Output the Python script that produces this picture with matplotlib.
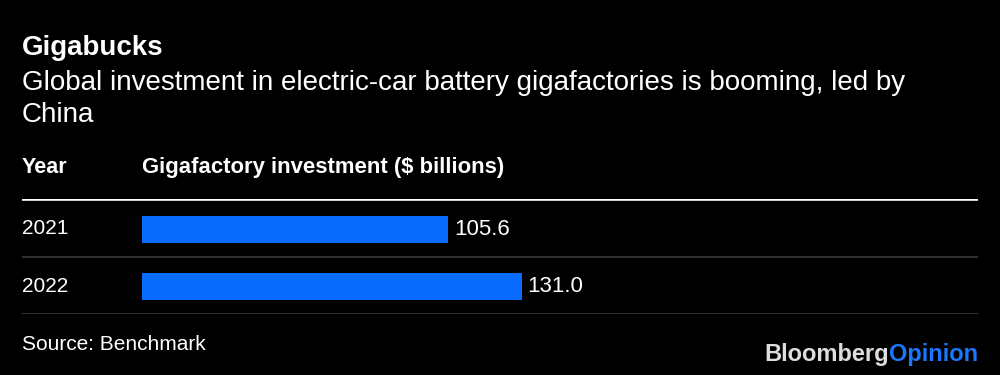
import matplotlib.pyplot as plt
from matplotlib.transforms import blended_transform_factory

plt.rcParams['font.family'] = ['Liberation Sans', 'DejaVu Sans']

years = ['2021', '2022']
investment = [105.6, 131.0]
value_labels = ['105.6', '131.0']

title = 'Gigabucks'
subtitle_lines = ['Global investment in electric-car battery gigafactories is booming, led by',
                  'China']
col_year = 'Year'
col_value = 'Gigafactory investment ($ billions)'
source = 'Source: Benchmark'

bg = '#000000'
bar_color = '#0a6cff'
px_per_unit = 2.9

fig = plt.figure(figsize=(10, 3.75), dpi=100, facecolor=bg)

# axes covers the table area, from x=22px to x=978px, rows y=199..314px
left, right = 0.022, 0.978
ax = fig.add_axes([left, 1 - 314 / 375, right - left, (314 - 199) / 375])
ax.set_facecolor(bg)
ax.set_xlim(-(142 - 22) / px_per_unit, (978 - 142) / px_per_unit)
ax.set_ylim(len(years) - 0.5, -0.5)
ax.axis('off')

pos = list(range(len(years)))
# bars sit a touch below the row centre in the original
ax.barh([p + 0.03 for p in pos], investment, height=0.47, color=bar_color, zorder=2)

trans = blended_transform_factory(ax.transAxes, ax.transData)
for i, (yr, v, lab) in enumerate(zip(years, investment, value_labels)):
    ax.text(0, i + 0.02, yr, transform=trans, color='white', fontsize=15,
            va='center', ha='left')
    ax.text(v + 2, i + 0.03, lab, color='white', fontsize=16, va='center', ha='left')

ax.axhline(-0.5, color='white', lw=2.6, zorder=3)
for i in pos:
    ax.axhline(i + 0.5, color='#3a3a3a', lw=1.2, zorder=3)

fig.text(0.022, 1 - 48 / 375, title, color='white', fontsize=20,
         fontweight='bold', va='center', ha='left')
for k, line in enumerate(subtitle_lines):
    fig.text(0.022, 1 - (83 + 32 * k) / 375, line, color='white', fontsize=20,
             va='center', ha='left')
fig.text(0.022, 1 - 168 / 375, col_year, color='white', fontsize=15.5,
         fontweight='bold', va='center', ha='left')
fig.text(0.142, 1 - 168 / 375, col_value, color='white', fontsize=15.9,
         fontweight='bold', va='center', ha='left')
fig.text(0.022, 1 - 345 / 375, source, color='white', fontsize=15,
         va='center', ha='left')

# logo
t1 = fig.text(0.978, 1 - 354 / 375, 'Opinion', color='#1a78ff', fontsize=17,
              fontweight='bold', va='center', ha='right')
fig.canvas.draw()
bb = t1.get_window_extent()
fig.text(bb.x0 / 1000, 1 - 354 / 375, 'Bloomberg', color='#dddddd', fontsize=17,
         fontweight='bold', va='center', ha='right')

fig.savefig('out.png', dpi=100, facecolor=bg)
